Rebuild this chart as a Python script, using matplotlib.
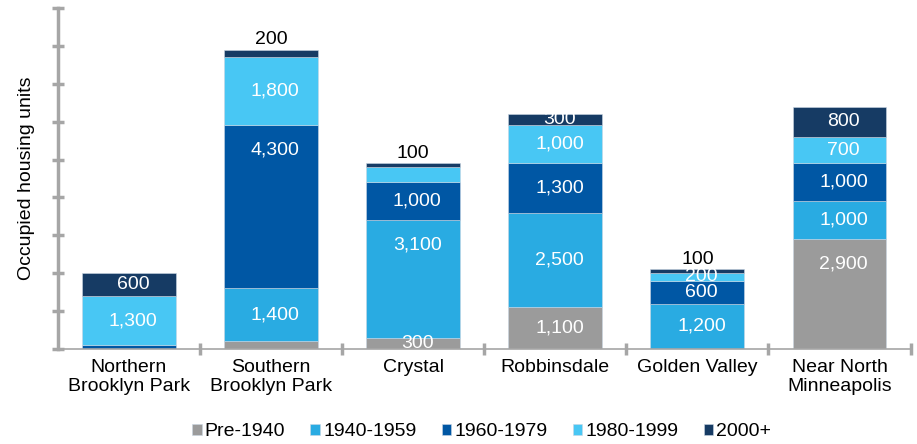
import matplotlib
matplotlib.use("Agg")
import matplotlib.pyplot as plt
import numpy as np

plt.rcParams['font.family'] = ['Liberation Sans', 'DejaVu Sans']

# data
areas = ["Northern\nBrooklyn Park", "Southern\nBrooklyn Park", "Crystal",
         "Robbinsdale", "Golden Valley", "Near North\nMinneapolis"]
periods = ["Pre-1940", "1940-1959", "1960-1979", "1980-1999", "2000+"]
pre1940 = [0, 200, 300, 1100, 0, 2900]
y1940_59 = [0, 1400, 3100, 2500, 1200, 1000]
y1960_79 = [100, 4300, 1000, 1300, 600, 1000]
y1980_99 = [1300, 1800, 400, 1000, 200, 700]
y2000p = [600, 200, 100, 300, 100, 800]
# which values get printed
shown = [
    [False, False, True, True, False, True],
    [False, True, True, True, True, True],
    [False, True, True, True, True, True],
    [True, True, False, True, True, True],
    [True, True, True, True, True, True],
]
colors = ["#9B9B9B", "#29ABE2", "#0057A4", "#48C7F4", "#163B64"]

series = [pre1940, y1940_59, y1960_79, y1980_99, y2000p]

fig = plt.figure(figsize=(9.17, 4.44), dpi=100)
ax = fig.add_axes([0.063, 0.214, 0.93, 0.768])

x = np.arange(len(areas))
bottom = np.zeros(len(areas))
for i, (vals, col, name) in enumerate(zip(series, colors, periods)):
    vals = np.array(vals, dtype=float)
    ax.bar(x, vals, 0.66, bottom=bottom, color=col, label=name,
           edgecolor="#C9D6E3", linewidth=0.4)
    for j, v in enumerate(vals):
        if not shown[i][j]:
            continue
        txt = f"{int(v):,}"
        top = bottom[j] + v
        if i == len(series) - 1 and v <= 200:
            ax.text(x[j], top + 40, txt, ha="center", va="bottom",
                    fontsize=14, color="black")
        else:
            # tall segments carry their label near the top
            yl = bottom[j] + v / 2 if v <= 2500 else top - 650
            ax.text(x[j] + 0.03, yl, txt, ha="center", va="center",
                    fontsize=14, color="white")
    bottom += vals

ax.set_xlim(-0.5, len(areas) - 0.5)
ax.set_ylim(0, 9000)
ax.set_yticks(np.arange(0, 9001, 1000))
ax.set_yticklabels([])
ax.set_xticks(x)
ax.set_xticklabels(areas, fontsize=14, linespacing=1.15)
ax.set_xticks(np.arange(0.5, len(areas), 1), minor=True)
ax.tick_params(axis="x", which="major", length=0, pad=7)
ax.tick_params(axis="x", which="minor", direction="inout", length=8, width=2.5,
               color="#A6A6A6")
ax.tick_params(axis="y", direction="inout", length=8, width=2.5, color="#A6A6A6")

for s in ["top", "right"]:
    ax.spines[s].set_visible(False)
ax.spines["left"].set_color("#A6A6A6")
ax.spines["left"].set_linewidth(2.5)
ax.spines["bottom"].set_color("#A6A6A6")
ax.spines["bottom"].set_linewidth(1.2)

ax.set_ylabel("Occupied housing units", fontsize=14, labelpad=9)

ax.legend(loc="center", bbox_to_anchor=(0.497, -0.243), ncol=5,
          frameon=False, fontsize=14, handlelength=0.5, handleheight=0.5,
          handletextpad=0.15, columnspacing=1.3)

fig.savefig("out.png", dpi=100)
